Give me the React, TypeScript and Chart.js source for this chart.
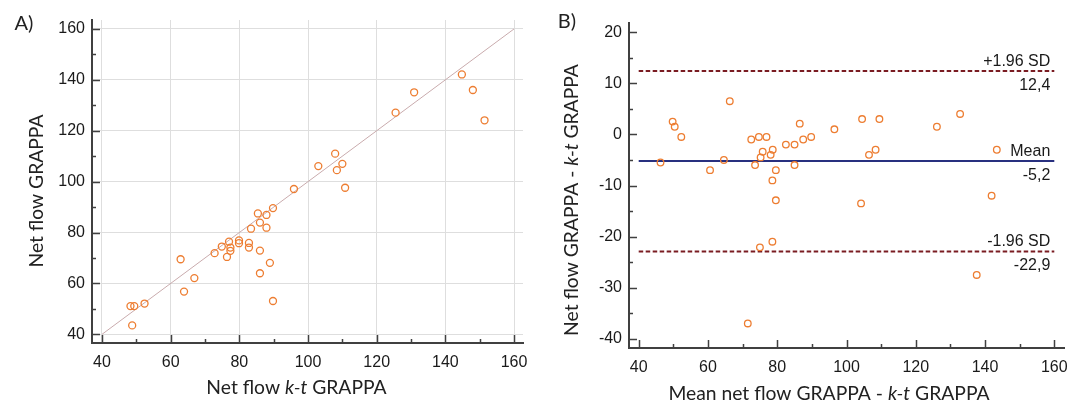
import React, { useEffect, useRef } from "react";
import { Chart, registerables } from "chart.js";
Chart.register(...registerables);

// ---------- data ----------
// A) correlation: Net flow k-t GRAPPA (x) vs Net flow GRAPPA (y)
const ktFlow = [144.8, 148.0, 151.4, 130.9, 125.5, 107.9, 103.0, 110.0, 108.4, 110.8,
  95.9, 89.8, 85.4, 87.9, 86.0, 83.4, 87.9, 79.9, 79.9, 77.0,
  74.9, 77.4, 77.4, 72.8, 76.4, 82.8, 82.8, 86.0, 88.9, 86.0,
  89.8, 62.9, 66.9, 63.9, 52.4, 48.3, 49.4, 48.8];
const grappaFlow = [142.1, 136.0, 124.1, 135.1, 127.1, 111.0, 106.1, 107.0, 104.5, 97.6,
  97.1, 89.6, 87.5, 86.9, 83.9, 81.5, 81.9, 76.9, 75.8, 76.4,
  74.5, 74.1, 72.8, 71.9, 70.4, 75.9, 74.1, 72.9, 68.1, 64.0,
  53.1, 69.5, 62.1, 56.8, 52.1, 51.1, 51.1, 43.5];
const identityLine = [40, 160];

// B) Bland-Altman: mean of both (x) vs difference (y)
const baMean = [46.3, 49.8, 50.4, 52.3, 60.6, 64.6, 66.3, 71.5, 72.5, 73.6,
  74.7, 75.2, 75.8, 76.9, 78.1, 78.7, 78.6, 79.6, 79.6, 75.0,
  78.6, 82.5, 85.0, 85.0, 86.5, 87.5, 89.8, 96.5, 104.5, 104.2,
  106.5, 108.4, 109.5, 126.1, 132.8, 137.6, 141.9, 143.4];
const baDiff = [-5.5, 2.5, 1.5, -0.5, -7.0, -5.0, 6.5, -37.0, -1.0, -6.0,
  -0.5, -4.5, -3.4, -0.5, -4.0, -3.0, -9.0, -7.0, -12.9, -22.1,
  -21.0, -2.0, -2.0, -6.0, 2.1, -1.0, -0.5, 1.0, 3.0, -13.5,
  -4.0, -3.0, 3.0, 1.5, 4.0, -27.5, -12.0, -3.0];
const limitValues = [12.4, -5.2, -22.9];
const limitNames = ["+1.96 SD", "Mean", "-1.96 SD"];
const limitTexts = ["12,4", "-5,2", "-22,9"];
const limitSpan = [40, 160];

// ticks
const flowTicks = [40, 60, 80, 100, 120, 140, 160];
const flowMinor = [50, 70, 90, 110, 130, 150];
const diffTicks = [-40, -30, -20, -10, 0, 10, 20];
const diffMinor = [-35, -25, -15, -5, 5, 15];

// titles
const panelA = "A)";
const panelB = "B)";
const titleAX: [string, boolean][] = [["Net flow ", false], ["k-t", true], [" GRAPPA", false]];
const titleAY: [string, boolean][] = [["Net flow GRAPPA", false]];
const titleBX: [string, boolean][] = [["Mean net flow GRAPPA - ", false], ["k-t", true], [" GRAPPA", false]];
const titleBY: [string, boolean][] = [["Net flow GRAPPA - ", false], ["k-t", true], [" GRAPPA", false]];

// ---------- styles ----------
const TICK_FONT = '"Liberation Sans", Arial, sans-serif';
const TITLE_FONT = 'Lato, "Open Sans", sans-serif';
const TITLE_SIZE = 19.3;
const AXIS_COLOR = "#404040";
const TEXT_COLOR = "#1a1a1a";
const ORANGE = "#ED7D31";

Chart.defaults.font.family = TICK_FONT;

function drawRich(ctx: CanvasRenderingContext2D, segs: [string, boolean][], x: number, y: number, rotate: boolean, size: number) {
  ctx.save();
  ctx.translate(x, y);
  if (rotate) ctx.rotate(-Math.PI / 2);
  const fonts = segs.map(([, it]) => `${it ? "italic " : ""}${size}px ${TITLE_FONT}`);
  let total = 0;
  const widths = segs.map(([t], i) => {
    ctx.font = fonts[i];
    const w = ctx.measureText(t).width;
    total += w;
    return w;
  });
  let cx = -total / 2;
  ctx.textBaseline = "alphabetic";
  ctx.textAlign = "left";
  ctx.fillStyle = "#222";
  segs.forEach(([t], i) => {
    ctx.font = fonts[i];
    ctx.fillText(t, cx, 0);
    cx += widths[i];
  });
  ctx.restore();
}

function innerTicksPlugin(xMajor: number[], xMinor: number[], yMajor: number[], yMinor: number[]) {
  return {
    id: "innerTicks",
    afterDatasetsDraw(chart: any) {
      const { ctx, chartArea, scales } = chart;
      ctx.save();
      ctx.strokeStyle = AXIS_COLOR;
      ctx.lineWidth = 1.5;
      ctx.beginPath();
      const tick = (vals: number[], len: number, horiz: boolean) => {
        vals.forEach((v) => {
          if (horiz) {
            const px = Math.round(scales.x.getPixelForValue(v)) + 0.5;
            ctx.moveTo(px, chartArea.bottom);
            ctx.lineTo(px, chartArea.bottom - len);
          } else {
            const py = Math.round(scales.y.getPixelForValue(v)) + 0.5;
            ctx.moveTo(chartArea.left, py);
            ctx.lineTo(chartArea.left + len, py);
          }
        });
      };
      tick(xMajor, 8, true);
      tick(xMinor, 4, true);
      tick(yMajor, 8, false);
      tick(yMinor, 4, false);
      ctx.stroke();
      ctx.restore();
    },
  };
}

function scaleOpts(min: number, max: number, ticks: number[], grid: boolean, size: { w?: number; h?: number }, pad: number) {
  return {
    type: "linear",
    min,
    max,
    afterBuildTicks: (s: any) => {
      s.ticks = ticks.map((v) => ({ value: v }));
    },
    afterFit: (s: any) => {
      if (size.w !== undefined) s.width = size.w;
      if (size.h !== undefined) s.height = size.h;
    },
    grid: { display: grid, color: "#dedede", lineWidth: 1, drawTicks: false },
    border: { display: true, color: AXIS_COLOR, width: 2 },
    ticks: { color: TEXT_COLOR, font: { size: 16, family: TICK_FONT }, padding: pad, autoSkip: false, maxRotation: 0 },
  };
}

export default function App() {
  const leftRef = useRef<HTMLCanvasElement>(null);
  const rightRef = useRef<HTMLCanvasElement>(null);

  useEffect(() => {
    const left = new Chart(leftRef.current as HTMLCanvasElement, {
      type: "scatter",
      data: {
        datasets: [
          {
            data: ktFlow.map((x, i) => ({ x, y: grappaFlow[i] })),
            pointRadius: 3.5,
            pointBorderWidth: 1.3,
            pointBorderColor: ORANGE,
            pointBackgroundColor: "rgba(0,0,0,0)",
          },
          {
            data: identityLine.map((v) => ({ x: v, y: v })),
            showLine: true,
            borderColor: "#c9abad",
            borderWidth: 1,
            pointRadius: 0,
          },
        ],
      } as any,
      options: {
        responsive: false,
        animation: false,
        events: [],
        layout: { padding: { left: 0, right: 17, top: 20, bottom: 0 } },
        plugins: { legend: { display: false }, tooltip: { enabled: false } },
        scales: {
          x: scaleOpts(37.1, 162.6, flowTicks, true, { h: 60 }, 10),
          y: scaleOpts(36.6, 163.5, flowTicks, true, { w: 92 }, 7),
        } as any,
      },
      plugins: [
        innerTicksPlugin(flowTicks, flowMinor, flowTicks, flowMinor),
        {
          id: "titlesA",
          afterDraw(chart: any) {
            const ctx = chart.ctx;
            drawRich(ctx, [[panelA, false]], 24, 30, false, 20);
            drawRich(ctx, titleAX, 296.5, 394, false, TITLE_SIZE);
            drawRich(ctx, titleAY, 43, 191, true, TITLE_SIZE);
          },
        },
      ],
    } as any);

    const right = new Chart(rightRef.current as HTMLCanvasElement, {
      type: "scatter",
      data: {
        datasets: [
          {
            data: baMean.map((x, i) => ({ x, y: baDiff[i] })),
            pointRadius: 3.3,
            pointBorderWidth: 1.3,
            pointBorderColor: ORANGE,
            pointBackgroundColor: "rgba(0,0,0,0)",
          },
          ...limitValues.map((v, i) => ({
            data: limitSpan.map((x) => ({ x, y: v })),
            showLine: true,
            borderColor: i === 1 ? "#28307f" : "#7a1c22",
            borderWidth: 2,
            borderDash: i === 1 ? [] : [4.5, 2.5],
            pointRadius: 0,
          })),
        ],
      } as any,
      options: {
        responsive: false,
        animation: false,
        events: [],
        layout: { padding: { left: 0, right: 16, top: 23, bottom: 0 } },
        plugins: { legend: { display: false }, tooltip: { enabled: false } },
        scales: {
          x: scaleOpts(37.2, 162.8, flowTicks, false, { h: 55 }, 10),
          y: scaleOpts(-41.8, 21.8, diffTicks, false, { w: 89 }, 7),
        } as any,
      },
      plugins: [
        innerTicksPlugin(flowTicks, flowMinor, diffTicks, diffMinor),
        {
          id: "titlesB",
          afterDraw(chart: any) {
            const { ctx, scales } = chart;
            drawRich(ctx, [[panelB, false]], 27, 28, false, 20);
            drawRich(ctx, titleBX, 289, 400, false, TITLE_SIZE);
            drawRich(ctx, titleBY, 38, 200, true, TITLE_SIZE);
            ctx.save();
            ctx.font = `16px ${TICK_FONT}`;
            ctx.fillStyle = TEXT_COLOR;
            ctx.textAlign = "right";
            ctx.textBaseline = "alphabetic";
            const rx = scales.x.getPixelForValue(limitSpan[1]) - 4;
            limitValues.forEach((v, i) => {
              const py = scales.y.getPixelForValue(v);
              ctx.fillText(limitNames[i], rx, py - 5);
              ctx.fillText(limitTexts[i], rx, py + 19);
            });
            ctx.restore();
          },
        },
      ],
    } as any);

    return () => {
      left.destroy();
      right.destroy();
    };
  }, []);

  return (
    <div style={{ position: "absolute", left: 0, top: 0, width: 1080, height: 403, background: "#fff" }}>
      <canvas ref={leftRef} width={540} height={403} style={{ position: "absolute", left: 0, top: 0, width: 540, height: 403 }} />
      <canvas ref={rightRef} width={540} height={403} style={{ position: "absolute", left: 540, top: 0, width: 540, height: 403 }} />
    </div>
  );
}
